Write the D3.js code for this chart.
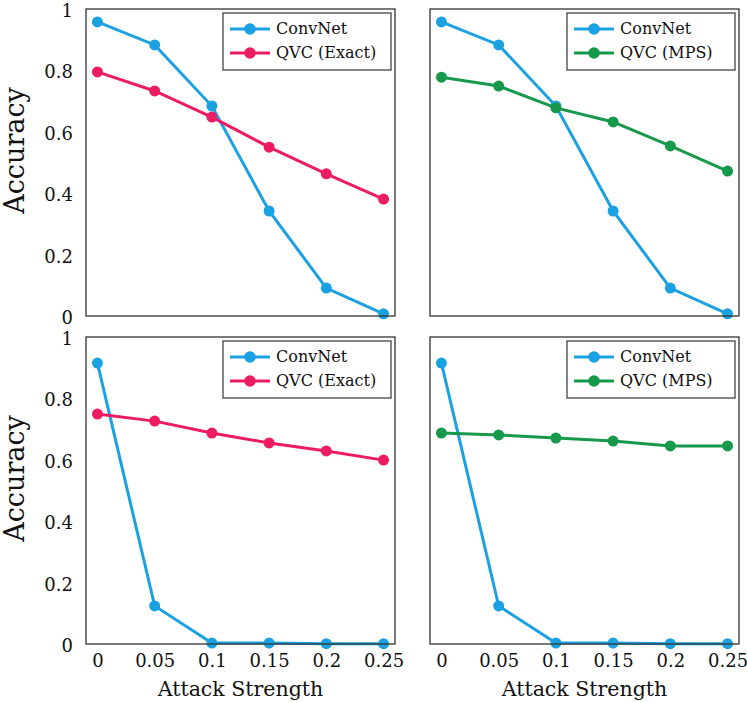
<!DOCTYPE html>
<html>
<head>
<meta charset="utf-8">
<script src="https://cdnjs.cloudflare.com/ajax/libs/d3/7.8.5/d3.min.js"></script>
</head>
<body style="margin:0;background:#fff">
<svg id="chart" width="747" height="702" font-family="DejaVu Serif"></svg>
<script>
// data
var strengths = [0, 0.05, 0.1, 0.15, 0.2, 0.25];
var xTickLabels = ["0", "0.05", "0.1", "0.15", "0.2", "0.25"];
var yTickValues = [0, 0.2, 0.4, 0.6, 0.8, 1];
var yTickLabels = ["0", "0.2", "0.4", "0.6", "0.8", "1"];

var convNetTop = [0.958, 0.883, 0.684, 0.342, 0.091, 0.007];
var qvcExactTop = [0.795, 0.733, 0.648, 0.550, 0.463, 0.381];
var qvcMpsTop = [0.778, 0.749, 0.678, 0.632, 0.554, 0.472];

var convNetBottom = [0.915, 0.124, 0.003, 0.003, 0.001, 0.001];
var qvcExactBottom = [0.749, 0.726, 0.687, 0.655, 0.629, 0.599];
var qvcMpsBottom = [0.687, 0.681, 0.671, 0.661, 0.645, 0.645];

var blue = "#1ba1e2", pink = "#ec1c63", green = "#17994c";
var serif = "DejaVu Serif";

var panels = [
  { x: 86, y: 9, series: [["ConvNet", convNetTop, blue], ["QVC (Exact)", qvcExactTop, pink]], yAxis: true, xAxis: false },
  { x: 430, y: 9, series: [["ConvNet", convNetTop, blue], ["QVC (MPS)", qvcMpsTop, green]], yAxis: false, xAxis: false },
  { x: 86, y: 337, series: [["ConvNet", convNetBottom, blue], ["QVC (Exact)", qvcExactBottom, pink]], yAxis: true, xAxis: true },
  { x: 430, y: 337, series: [["ConvNet", convNetBottom, blue], ["QVC (MPS)", qvcMpsBottom, green]], yAxis: false, xAxis: true }
];

var W = 309, H = 307;
var svg = d3.select("#chart");

panels.forEach(function(p) {
  var g = svg.append("g").attr("transform", "translate(" + p.x + "," + p.y + ")");
  var xScale = d3.scaleLinear().domain([-0.01, 0.26]).range([0, W]);
  var yScale = d3.scaleLinear().domain([0, 1]).range([H, 0]);

  if (p.yAxis) {
    var yAxis = d3.axisLeft(yScale).tickValues(yTickValues)
      .tickFormat(function(d, i) { return yTickLabels[i]; })
      .tickSize(0).tickPadding(13);
    var ya = g.append("g").call(yAxis).attr("font-family", serif).attr("font-size", 18);
    ya.select(".domain").remove();
    ya.selectAll("text").attr("fill", "#111").attr("dy", "0.42em");

    svg.append("text")
      .attr("transform", "translate(24," + (p.y + H / 2 - 12) + ") rotate(-90)")
      .attr("text-anchor", "middle")
      .attr("font-family", serif)
      .attr("font-size", 27)
      .attr("fill", "#111")
      .text("Accuracy");
  }

  if (p.xAxis) {
    var xAxis = d3.axisBottom(xScale).tickValues(strengths)
      .tickFormat(function(d, i) { return xTickLabels[i]; })
      .tickSize(0).tickPadding(10);
    var xa = g.append("g").attr("transform", "translate(0," + H + ")").call(xAxis)
      .attr("font-family", serif).attr("font-size", 18);
    xa.select(".domain").remove();
    xa.selectAll("text").attr("fill", "#111");

    g.append("text")
      .attr("x", W / 2).attr("y", H + 52)
      .attr("text-anchor", "middle")
      .attr("font-family", serif)
      .attr("font-size", 20.5)
      .attr("fill", "#111")
      .text("Attack Strength");
  }

  var line = d3.line()
    .x(function(d, i) { return xScale(strengths[i]); })
    .y(function(d) { return yScale(d); });

  p.series.forEach(function(s) {
    g.append("path")
      .attr("d", line(s[1]))
      .attr("fill", "none")
      .attr("stroke", s[2])
      .attr("stroke-width", 3);
    g.selectAll(null).data(s[1]).enter().append("circle")
      .attr("cx", function(d, i) { return xScale(strengths[i]); })
      .attr("cy", function(d) { return yScale(d); })
      .attr("r", 5.5)
      .attr("fill", s[2]);
  });

  g.append("rect").attr("width", W).attr("height", H)
    .attr("fill", "none").attr("stroke", "#333").attr("stroke-width", 1.3);

  // legend
  var lw = 168, lx = W - lw - 4;
  var lg = g.append("g").attr("transform", "translate(" + lx + ",4)");
  lg.append("rect").attr("width", lw).attr("height", 57)
    .attr("fill", "#fff").attr("stroke", "#444").attr("stroke-width", 1.3);
  p.series.forEach(function(s, i) {
    var cy = 16 + i * 24;
    lg.append("line").attr("x1", 7).attr("x2", 47).attr("y1", cy).attr("y2", cy)
      .attr("stroke", s[2]).attr("stroke-width", 3);
    lg.append("circle").attr("cx", 27).attr("cy", cy).attr("r", 5.8).attr("fill", s[2]);
    lg.append("text").attr("x", 53).attr("y", cy + 5)
      .attr("font-family", serif)
      .attr("font-size", 16)
      .attr("fill", "#111")
      .text(s[0]);
  });
});
</script>
</body>
</html>
